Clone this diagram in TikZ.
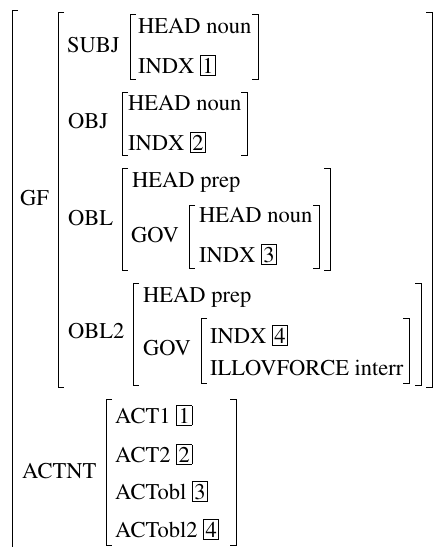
\documentclass[tikz,border=0pt]{standalone}
\usepackage[T1]{fontenc}
\usepackage{times}
\setlength{\fboxsep}{1.7pt}
\setlength{\fboxrule}{0.7pt}
\newcommand\tg[1]{\fbox{#1}}
\newcommand\lbr[3]{\draw[brk] (#1+6,#2) -- (#1,#2) -- (#1,#3) -- (#1+6,#3);}
\newcommand\rbr[3]{\draw[brk] (#1-6,#2) -- (#1,#2) -- (#1,#3) -- (#1-6,#3);}
\begin{document}
\begin{tikzpicture}[x=1pt,y=-1pt,
  lbl/.style={anchor=base west,inner sep=0pt,font=\rmfamily\fontsize{22.5}{26}\selectfont},
  brk/.style={line width=0.8pt,black}]
\useasboundingbox (0,0) rectangle (435,547);
% outer bracket (cropped)
\draw[brk] (18,10) -- (12,10) -- (12,550);
% GF
\node[lbl] (gf) at (20,205) {GF};
\lbr{58}{12}{387}
\rbr{432}{12}{387}
% SUBJ
\node[lbl] (subj) at (67,52) {SUBJ};
\lbr{130}{14}{79}
\rbr{258}{14}{79}
\node[lbl] (subjh) at (138,33) {HEAD noun};
\node[lbl] (subji) at (138,73) {INDX \tg{1}};
% OBJ
\node[lbl] (obj) at (68,128) {OBJ};
\lbr{122}{92}{155}
\rbr{247}{92}{155}
\node[lbl] (objh) at (128,110) {HEAD noun};
\node[lbl] (obji) at (128,150) {INDX \tg{2}};
% OBL
\node[lbl] (obl) at (68,225) {OBL};
\lbr{122}{168}{270}
\rbr{330}{168}{270}
\node[lbl] (oblh) at (132,187) {HEAD prep};
\node[lbl] (oblg) at (131,242) {GOV};
\lbr{189}{205}{268}
\rbr{319}{205}{268}
\node[lbl] (oblgh) at (199,222) {HEAD noun};
\node[lbl] (oblgi) at (199,262) {INDX \tg{3}};
% OBL2
\node[lbl] (obltwo) at (68,338) {OBL2};
\lbr{133}{283}{385}
\rbr{421}{283}{385}
\node[lbl] (obltwoh) at (143,302) {HEAD prep};
\node[lbl] (obltwog) at (143,355) {GOV};
\lbr{201}{318}{383}
\rbr{409}{318}{383}
\node[lbl] (obltwogi) at (210,343) {INDX \tg{4}};
\node[lbl] (obltwogf) at (210,375) {ILLOVFORCE interr};
% ACTNT
\node[lbl] (actnt) at (22,478) {ACTNT};
\lbr{106}{399}{545}
\rbr{236}{399}{545}
\node[lbl] (acta) at (115,423) {ACT1 \tg{1}};
\node[lbl] (actb) at (115,462) {ACT2 \tg{2}};
\node[lbl] (actc) at (115,499) {ACTobl \tg{3}};
\node[lbl] (actd) at (115,537) {ACTobl2 \tg{4}};
\end{tikzpicture}
\end{document}
